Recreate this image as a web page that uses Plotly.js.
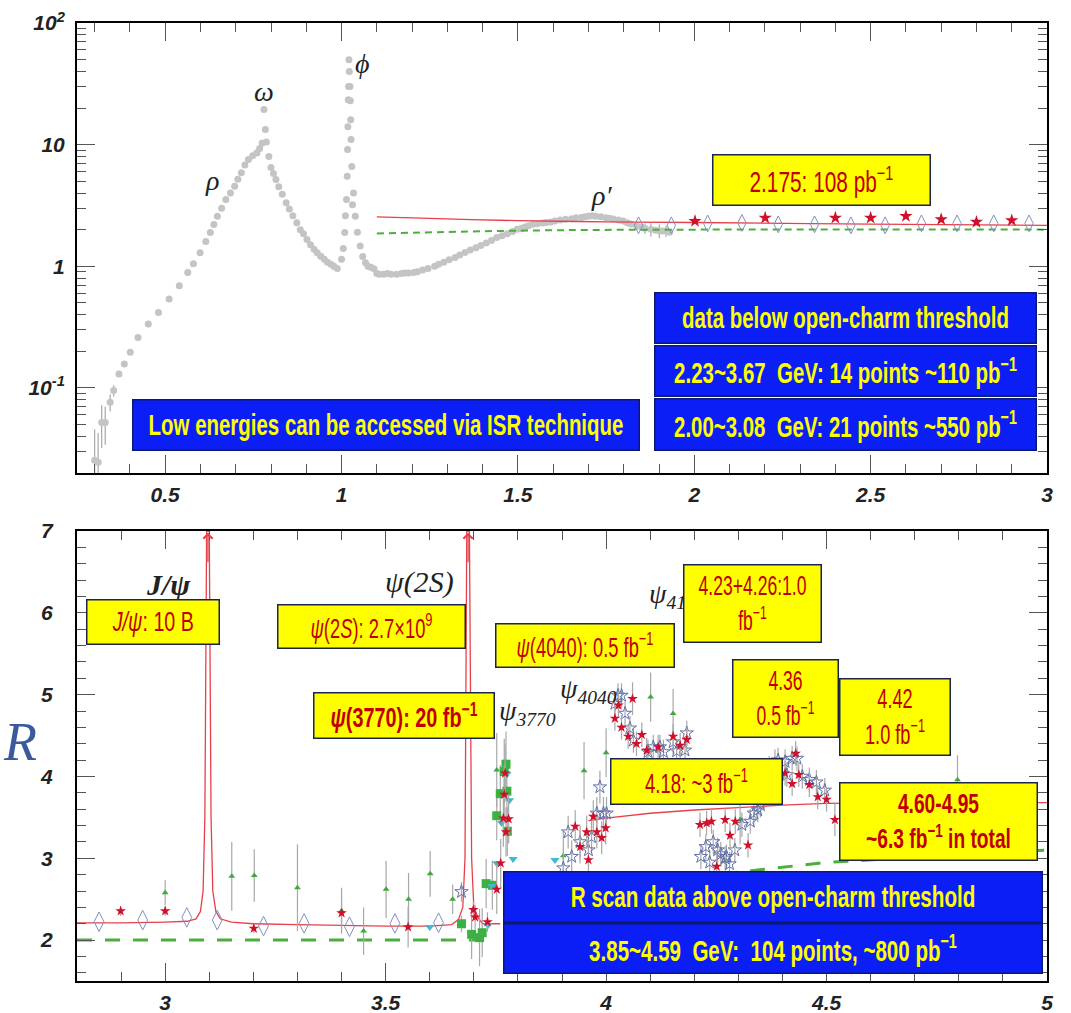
<!DOCTYPE html>
<html><head><meta charset="utf-8">
<script src="https://cdn.plot.ly/plotly-3.0.1.min.js"></script>
<style>html,body{margin:0;padding:0;background:#fff}#chart{width:1071px;height:1013px}</style>
</head><body><div id="chart"></div>
<script>
// ---------------- TOP PANEL DATA (log scale) ----------------
const lowX = [0.300,0.310,0.320,0.330,0.344,0.354,0.369,0.384,0.401,0.423,
  0.452,0.481,0.511,0.540,0.564,0.599,0.628,0.648,0.672,0.697,
  0.716,0.736,0.760,0.775,0.780,0.784,0.794,0.814,0.843,0.873,
  0.902,0.941,0.970,0.988,1.000,1.009,1.014,1.017,1.019,1.021,
  1.025,1.027,1.029,1.034,1.039,1.053,1.068,1.092,1.107,1.13,
  1.156,1.18,1.205,1.23,1.264,1.29,1.322,1.35,1.381,1.41,
  1.44,1.47,1.498,1.52,1.542,1.57,1.593,1.62,1.652,1.68,
  1.700,1.72,1.749,1.77,1.798,1.82,1.837,1.86,1.877,1.901,1.92];
const lowR = [0.0254,0.0245,0.052,0.052,0.076,0.095,0.13,0.157,0.196,0.26,
  0.335,0.417,0.537,0.69,0.887,1.29,1.89,2.58,3.54,4.55,
  5.86,7.53,8.55,10.3,19.4,13.3,8.0,5.16,3.33,2.28,
  1.66,1.21,1.04,0.957,1.14,1.89,3.54,9.1,23.4,49.8,
  23,11,6.6,4.0,2.58,1.47,1.07,0.955,0.86,0.87,
  0.86,0.88,0.887,0.93,1.0,1.08,1.18,1.3,1.42,1.55,
  1.72,1.85,2.01,2.1,2.21,2.27,2.31,2.4,2.46,2.52,
  2.58,2.58,2.51,2.45,2.35,2.22,2.14,2.05,2.01,1.95,1.95];
const lowErr = [0.02,0.018,0.02,0.018,0.012,0.01,0.008,0.007,0.006,0.005,
  0,0,0,0,0,0,0,0,0,0, 0,0,0,0,0,0,0,0,0,0, 0,0,0,0,0,0,0,0,0,0,
  0,0,0,0,0,0,0,0,0,0, 0,0,0,0,0,0,0,0,0,0,
  0,0,0,0,0,0,0.08,0.1,0.1,0.12, 0.12,0.12,0.12,0.1,0.1,0.12,0.15,0.2,0.25,0.25,0.2];
// further points read along the dense band
const denseX = [0.58,0.615,0.638,0.66,0.685,0.706,0.726,0.748,0.768,
  0.787,0.80,0.807,0.822,0.832,0.852,0.862,0.883,0.892,0.912,0.922,0.931,0.951,0.96,0.978,
  1.005,1.011,1.016,1.018,1.02,1.022,1.024,1.026,1.031,1.045,1.06,1.075,1.083,
  1.1,1.12,1.14,1.17,1.19,1.215,1.245,1.275,1.305,1.335,1.365,1.395,1.425,1.455,1.485,
  1.51,1.53,1.555,1.58,1.605,1.635,1.665,1.69,1.71,1.735,1.76,1.785,1.81,1.85,1.89,1.91,1.93];
const denseR = [1.05,1.6,2.2,3.0,4.0,5.2,6.8,8.1,9.3,
  10.5,6.5,5.8,4.5,3.9,2.95,2.6,2.0,1.85,1.5,1.38,1.29,1.14,1.08,1.0,
  1.4,2.6,5.5,14,30,40,30,16,3.2,1.9,1.2,1.0,0.98,
  0.87,0.86,0.86,0.87,0.88,0.9,0.96,1.04,1.13,1.24,1.36,1.48,1.63,1.78,1.93,
  2.05,2.15,2.24,2.29,2.35,2.43,2.5,2.55,2.6,2.55,2.48,2.4,2.28,2.1,1.98,1.95,1.9];

const topStarX = [2.002,2.201,2.40,2.50,2.60,2.70,2.80,2.90];
const topStarY = [2.35,2.5,2.5,2.5,2.58,2.43,2.31,2.38];
const topDiamX = [1.842,1.935,2.038,2.135,2.238,2.341,2.444,2.541,2.644,2.745,2.849,2.949];
const topDiamY = [2.17,2.17,2.25,2.27,2.21,2.21,2.17,2.17,2.25,2.25,2.25,2.25];

const topFitX = [1.1,1.3,1.5,1.75,2.0,2.5,3.0];
const topFitY = [2.55,2.45,2.37,2.32,2.29,2.22,2.17];
const topPartonX = [1.1,1.55,2.0,3.0];
const topPartonY = [1.86,1.97,2.0,2.0];

// ---------------- BOTTOM PANEL DATA (linear) ----------------
const fitX = [2.8,2.9,3.0,3.05,3.07,3.08,3.086,3.09,3.094,3.1,3.104,3.108,3.115,3.125,3.15,
  3.2,3.3,3.4,3.5,3.6,3.65,3.665,3.675,3.68,3.684,3.69,3.695,3.70,3.71,3.72,3.76,null,
  3.96,4.0,4.1,4.2,4.3,4.4,4.5,4.7,5.0];
const fitY = [2.21,2.21,2.22,2.23,2.26,2.35,2.6,3.5,7,7,3.5,2.6,2.35,2.26,2.22,
  2.2,2.19,2.18,2.17,2.17,2.19,2.25,2.4,3.0,7,7,3.0,2.4,2.27,2.2,2.2,null,
  3.46,3.49,3.55,3.59,3.62,3.65,3.67,3.68,3.68];
const partonX = [2.8,3.72,null,4.2,4.5,5.0];
const partonY = [2.0,2.0,null,2.77,2.95,3.1];

const diamX = [2.850,2.949,3.049,3.118,3.223,3.315,3.418,3.521,3.620];
const diamY = [2.224,2.244,2.277,2.244,2.171,2.204,2.163,2.204,2.212];

const redX = [2.899,3.0,3.201,3.40,3.551,3.699,3.731,3.703,3.752,3.761,
  3.767,3.769,3.771,3.779,3.773,3.93,3.941,3.956,3.96,3.971,
  3.979,3.99,3.999,4.02,4.028,4.035,4.05,4.06,4.069,4.081,
  4.092,4.118,4.152,4.168,4.183,4.213,4.228,4.239,4.251,4.27,
  4.281,4.293,4.322,4.383,4.406,4.43,4.437,4.422,4.461,4.48,4.5,4.519];
const redY = [2.355,2.355,2.143,2.33,2.16,2.37,2.22,2.28,2.62,2.94,
  3.49,3.78,4.04,3.48,3.32,3.39,3.14,3.32,2.98,3.51,
  3.32,3.25,3.37,4.71,4.87,4.60,4.49,4.95,4.40,4.51,
  4.32,4.36,4.49,4.38,4.45,3.41,3.43,3.45,2.90,3.47,
  3.28,3.45,3.16,4.18,4.04,4.28,4.02,3.91,3.90,3.75,3.72,3.47];
const redErr = [0.06,0.06,0.06,0.2,0.25,0.1,0.12,0.15,0.3,0.3,
  0.35,0.35,0.35,0.3,0.3,0.2,0.2,0.2,0.25,0.2,
  0.2,0.2,0.2,0.15,0.15,0.15,0.15,0.2,0.15,0.15,
  0.15,0.15,0.15,0.15,0.15,0.15,0.15,0.15,0.2,0.15,
  0.15,0.15,0.15,0.15,0.15,0.15,0.15,0.15,0.15,0.15,0.15,0.2];

const bstarX = [3.672,3.903,3.914,3.922,3.941,3.96,3.967,3.979,3.986,3.994,
  4.001,4.02,4.027,4.035,4.043,4.054,4.062,4.095,4.107,4.122,
  4.13,4.152,4.16,4.179,4.183,4.215,4.226,4.235,4.243,4.253,
  4.26,4.27,4.273,4.28,4.292,4.308,4.327,4.335,4.344,4.35,
  4.37,4.39,4.406,4.41,4.422,4.433,4.445,4.461,4.477,4.496];
const bstarY = [2.59,2.88,3.32,3.02,3.20,3.10,3.26,3.55,3.87,3.55,
  3.55,4.89,4.99,4.99,4.77,4.59,4.44,4.30,4.36,4.36,
  4.30,4.42,4.31,4.32,4.53,3.02,3.14,2.95,3.20,3.10,
  3.05,3.00,3.02,2.93,3.10,3.41,3.45,3.55,3.59,3.65,
  4.10,4.20,4.18,4.02,4.22,4.22,4.00,3.96,3.93,3.83];
const bstarErr = [0.12,0.2,0.2,0.2,0.2,0.2,0.2,0.2,0.2,0.2,
  0.2,0.15,0.15,0.15,0.15,0.15,0.15,0.15,0.15,0.15,
  0.15,0.15,0.15,0.15,0.15,0.15,0.15,0.15,0.15,0.15,
  0.15,0.15,0.15,0.15,0.15,0.15,0.15,0.15,0.15,0.15,
  0.15,0.15,0.15,0.15,0.15,0.15,0.15,0.15,0.15,0.15];

const gtriX = [3.0,3.151,3.202,3.30,3.40,3.45,3.501,3.552,3.601,3.652,3.752,3.903,3.95,4.0,4.101,4.152,4.304,4.797];
const gtriY = [2.58,2.78,2.79,2.64,2.36,2.11,2.62,2.50,2.81,2.50,4.08,3.03,4.07,4.29,4.97,4.77,3.47,3.96];
const gtriErr = [0.15,0.42,0.32,0.53,0.28,0.29,0.35,0.32,0.28,0.18,0.45,0.3,0.35,0.3,0.3,0.3,0.3,0.3];

const gsqX = [3.672,3.695,3.713,3.719,3.728,3.742,3.752,3.76,3.769,3.773,3.775,3.776];
const gsqY = [2.20,2.07,2.03,2.09,2.69,2.67,3.52,3.79,4.06,4.15,3.82,3.33];
const gsqErr = [0.1,0.3,0.35,0.3,0.3,0.3,0.3,0.35,0.4,0.4,0.35,0.3];

const ctriX = [3.60,3.732,3.741,3.752,3.763,3.775,3.781,3.789,3.884];
const ctriY = [2.16,2.18,2.66,2.94,3.43,4.03,3.71,2.99,2.98];

// ---------------- STYLE ----------------
const SANS = 'Liberation Sans, Arial, sans-serif';
const SERIF = '"Liberation Serif", "DejaVu Serif", serif';
const RED = '#c00000';
const ERRC = '#a8a8a8';
const L = 77, R = 1047, T = 23, B = 981, H = 958, W = 970;
const PX = p => (p - L) / W;
const PY = p => (B - p) / H;

const tickFont = {family: SANS, size: 21, weight: 'bold', style: 'italic', color: '#222'};
const errBar = arr => ({type: 'data', array: arr, visible: true, color: ERRC, thickness: 1.2, width: 0});

const traces = [
  {x: lowX, y: lowR, type: 'scatter', mode: 'markers', xaxis: 'x', yaxis: 'y',
   marker: {color: '#c4c4c4', size: 7}, error_y: errBar(lowErr)},
  {x: denseX, y: denseR, type: 'scatter', mode: 'markers', xaxis: 'x', yaxis: 'y',
   marker: {color: '#c4c4c4', size: 7}},
  {x: topFitX, y: topFitY, type: 'scatter', mode: 'lines', xaxis: 'x', yaxis: 'y',
   line: {color: '#e8404a', width: 1.3, shape: 'spline'}},
  {x: topPartonX, y: topPartonY, type: 'scatter', mode: 'lines', xaxis: 'x', yaxis: 'y',
   line: {color: '#4caf3c', width: 2, dash: '7px,5px', shape: 'spline'}},
  {x: topDiamX, y: topDiamY, type: 'scatter', mode: 'markers', xaxis: 'x', yaxis: 'y',
   marker: {symbol: 'diamond-tall-open', size: 12, color: '#8090c0', line: {width: 1}}},
  {x: topStarX, y: topStarY, type: 'scatter', mode: 'markers', xaxis: 'x', yaxis: 'y',
   marker: {symbol: 'star', size: 10, color: '#d0102a'}},

  {x: fitX, y: fitY, type: 'scatter', mode: 'lines', xaxis: 'x2', yaxis: 'y2',
   line: {color: '#e8404a', width: 1.3}, connectgaps: false},
  {x: partonX, y: partonY, type: 'scatter', mode: 'lines', xaxis: 'x2', yaxis: 'y2',
   line: {color: '#4caf3c', width: 3, dash: '15px,13px'}, connectgaps: false},
  {x: gtriX, y: gtriY, type: 'scatter', mode: 'markers', xaxis: 'x2', yaxis: 'y2',
   marker: {symbol: 'triangle-up', size: 6, color: '#3fa83f'}, error_y: errBar(gtriErr)},
  {x: diamX, y: diamY, type: 'scatter', mode: 'markers', xaxis: 'x2', yaxis: 'y2',
   marker: {symbol: 'diamond-tall-open', size: 14, color: '#8090c0', line: {width: 1}}},
  {x: gsqX, y: gsqY, type: 'scatter', mode: 'markers', xaxis: 'x2', yaxis: 'y2',
   marker: {symbol: 'square', size: 9, color: '#3cb043'}, error_y: errBar(gsqErr)},
  {x: ctriX, y: ctriY, type: 'scatter', mode: 'markers', xaxis: 'x2', yaxis: 'y2',
   marker: {symbol: 'triangle-down', size: 8, color: '#40b8d0'}},
  {x: bstarX, y: bstarY, type: 'scatter', mode: 'markers', xaxis: 'x2', yaxis: 'y2',
   marker: {symbol: 'star-open', size: 10, color: '#6070a8', line: {width: 1}}, error_y: errBar(bstarErr)},
  {x: redX, y: redY, type: 'scatter', mode: 'markers', xaxis: 'x2', yaxis: 'y2',
   marker: {symbol: 'star', size: 8, color: '#d0102a'}, error_y: errBar(redErr)}
];

// minor tick positions on the log axis (2..9 x 10^k)
const logMinor = [];
for (let k = -2; k <= 1; k++) for (let m = 2; m <= 9; m++) logMinor.push(m * Math.pow(10, k));

function axisCommon() {
  return {showgrid: false, zeroline: false, showline: true, linecolor: '#000', linewidth: 2,
    mirror: 'allticks', ticks: 'inside', tickcolor: '#555', tickwidth: 1, ticklen: 18,
    tickfont: tickFont};
}

const annotations = [];
const fitW = {};
function label(px, py, text, size, opts) {
  annotations.push(Object.assign({xref: 'paper', yref: 'paper', x: PX(px), y: PY(py), text: text,
    showarrow: false, xanchor: 'center', yanchor: 'middle',
    font: {family: SERIF, size: size, style: 'italic', color: '#222'}}, opts || {}));
}
function box(x0, y0, x1, y1, text, kind, target, size) {
  const yellow = kind === 'y';
  const bw = 1.5;
  annotations.push({xref: 'paper', yref: 'paper', x: PX((x0 + x1) / 2), y: PY((y0 + y1) / 2),
    xanchor: 'center', yanchor: 'middle', text: text, showarrow: false,
    width: x1 - x0 - 2 * bw, height: y1 - y0 - 2 * bw, borderpad: 0, borderwidth: bw,
    bgcolor: yellow ? '#ffff00' : '#0a1ef5', bordercolor: yellow ? '#1a2450' : '#0a1a70',
    font: yellow ? {family: SANS, size: size || 29, color: RED}
                 : {family: SANS, size: size || 29, color: '#ffff00', weight: 'bold'}});
  fitW[annotations.length - 1] = target;
}

label(212, 180, 'ρ', 28); label(264, 92, 'ω', 28); label(362, 63, 'ϕ', 28); label(601, 195, 'ρ′', 28);
label(168, 584, 'J/ψ', 30, {font: {family: SERIF, size: 30, style: 'italic', weight: 'bold', color: '#222'}});
label(419, 582, 'ψ(2<i>S</i>)', 30);
label(497, 712, 'ψ<sub>3770</sub>', 28, {xanchor: 'left'});
label(558, 690, 'ψ<sub>4040</sub>', 28, {xanchor: 'left'});
label(647, 595, 'ψ<sub>4160</sub>', 28, {xanchor: 'left'});
label(20, 742, 'R', 54, {font: {family: SERIF, size: 54, style: 'italic', color: '#3b5a9e'}});

box(712, 154, 931, 206, '2.175: 108 pb<sup>−1</sup>', 'y', 144);
box(654, 292, 1037, 344, 'data below open-charm threshold', 'b', 327);
box(654, 345, 1037, 397, '2.23~3.67  GeV: 14 points ~110 pb<sup>−1</sup>', 'b', 343);
box(654, 398, 1037, 451, '2.00~3.08  GeV: 21 points ~550 pb<sup>−1</sup>', 'b', 343);
box(132, 399, 640, 451, 'Low energies can be accessed via ISR technique', 'b', 475);

box(86, 599, 220, 645, '<i>J/ψ</i>: 10 B', 'y', 82, 27);
box(277, 604, 466, 649, '<i>ψ</i>(2<i>S</i>): 2.7×10<sup>9</sup>', 'y', 122, 27);
box(313, 692, 495, 739, '<b><i>ψ</i>(3770): 20 fb<sup>−1</sup></b>', 'y', 147, 28);
box(495, 623, 675, 668, '<i>ψ</i>(4040): 0.5 fb<sup>−1</sup>', 'y', 137, 27);
box(683, 564, 822, 643, '4.23+4.26:1.0<br>fb<sup>−1</sup>', 'y', 108, 27);
box(732, 659, 839, 738, '4.36<br>0.5 fb<sup>−1</sup>', 'y', 58, 27);
box(839, 678, 951, 756, '4.42<br>1.0 fb<sup>−1</sup>', 'y', 60, 27);
box(610, 758, 783, 805, '4.18: ~3 fb<sup>−1</sup>', 'y', 103, 28);
box(839, 782, 1038, 861, '<b>4.60-4.95<br>~6.3 fb<sup>−1</sup> in total</b>', 'y', 145, 27);
box(503, 871, 1043, 923, 'R scan data above open-charm threshold', 'b', 405);
box(503, 923, 1043, 974, '3.85~4.59  GeV:  104 points, ~800 pb<sup>−1</sup>', 'b', 368);

[3.097, 3.687].forEach(m => annotations.push({xref: 'x2', yref: 'y2', axref: 'x2', ayref: 'y2',
  x: m, y: 6.98, ax: m, ay: 6.6, showarrow: true, arrowhead: 4, arrowsize: 1.4, arrowwidth: 1.3,
  arrowcolor: '#e8404a', text: ''}));

const layout = {
  width: 1071, height: 1013, showlegend: false,
  paper_bgcolor: '#fff', plot_bgcolor: '#fff',
  margin: {l: L, r: 1071 - R, t: T, b: 1013 - B},
  font: {family: SANS},
  xaxis: Object.assign(axisCommon(), {anchor: 'y', domain: [0, 1], range: [0.25, 3],
    tick0: 0, dtick: 0.5, ticklabelstandoff: 2,
    minor: {dtick: 0.1, ticks: 'inside', ticklen: 9, tickcolor: '#555'}}),
  yaxis: Object.assign(axisCommon(), {anchor: 'x', domain: [1 - 450 / H, 1], type: 'log',
    range: [-1.7, 2], tickmode: 'array', tickvals: [0.1, 1, 10, 100],
    ticktext: ['10<sup>-1</sup>', '1', '10', '10<sup>2</sup>'], ticklabelstandoff: 6,
    minor: {tickmode: 'array', tickvals: logMinor, ticks: 'inside', ticklen: 9, tickcolor: '#555'}}),
  xaxis2: Object.assign(axisCommon(), {anchor: 'y2', domain: [0, 1], range: [2.8, 5],
    tick0: 0, dtick: 0.5, ticklabelstandoff: 2,
    minor: {dtick: 0.1, ticks: 'inside', ticklen: 9, tickcolor: '#555'}}),
  yaxis2: Object.assign(axisCommon(), {anchor: 'x2', domain: [0, 450 / H], range: [1.5, 7],
    tick0: 0, dtick: 1, ticklabelstandoff: 18,
    minor: {dtick: 0.2, ticks: 'inside', ticklen: 9, tickcolor: '#555'}}),
  annotations: annotations
};

Plotly.newPlot('chart', traces, layout, {staticPlot: true}).then(gd => {
  // condense box texts horizontally (narrow-font look) so they fit their boxes
  Object.keys(fitW).forEach(i => {
    const t = gd.querySelector('.annotation[data-index="' + i + '"] text.annotation-text');
    if (!t) return;
    t.removeAttribute('clip-path');
    const bb = t.getBBox();
    if (!bb.width) return;
    const s = fitW[i] / bb.width;
    const cx = bb.x + bb.width / 2;
    t.setAttribute('transform', 'translate(' + (cx * (1 - s)) + ',0) scale(' + s + ',1)');
  });
});
</script></body></html>
